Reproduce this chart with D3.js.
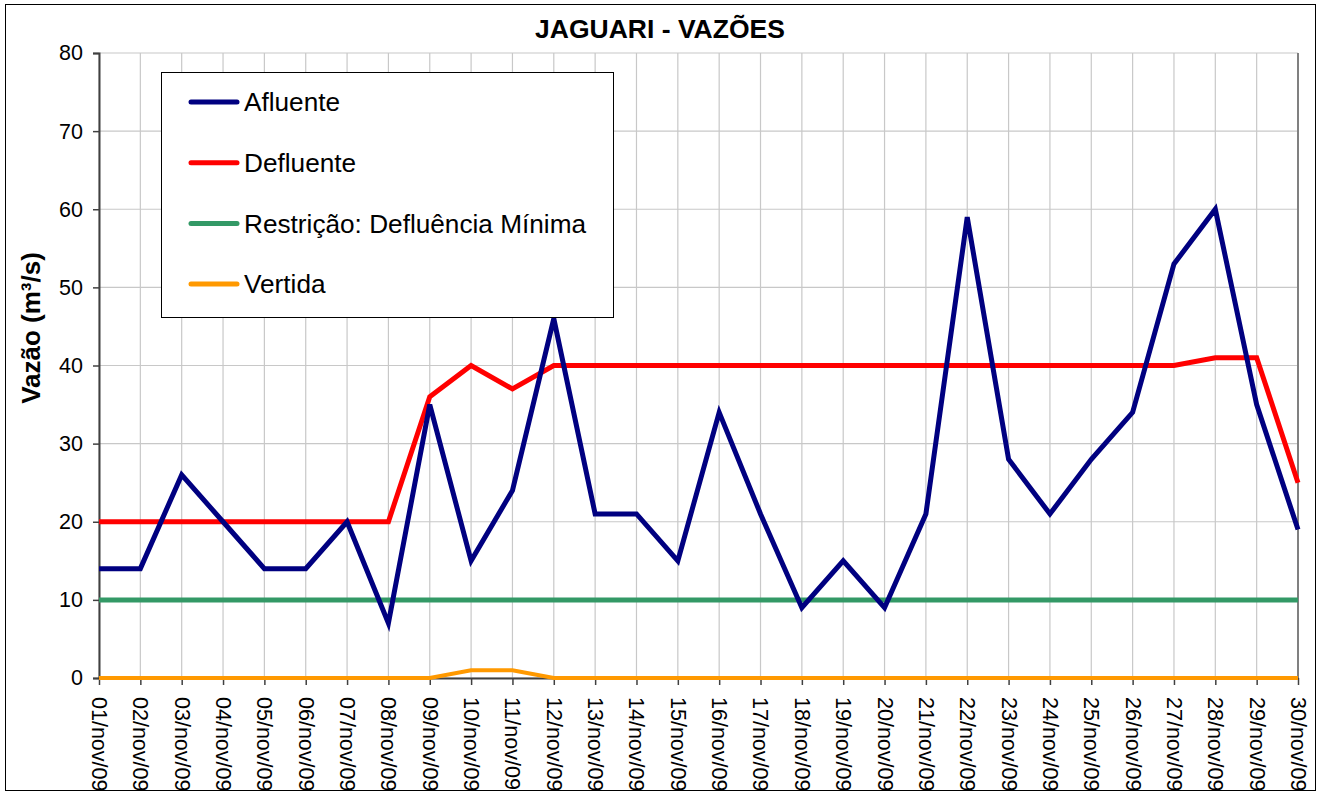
<!DOCTYPE html>
<html>
<head>
<meta charset="utf-8">
<script src="https://cdn.jsdelivr.net/npm/d3@7"></script>
<style>
  body { margin: 0; background: #fff; }
  text { font-family: "Liberation Sans", Arial, sans-serif; }
</style>
</head>
<body>
<div class="chart"></div>
<script>
// days of november 2009
const dias = ["01/nov/09","02/nov/09","03/nov/09","04/nov/09","05/nov/09","06/nov/09","07/nov/09","08/nov/09","09/nov/09","10/nov/09",
              "11/nov/09","12/nov/09","13/nov/09","14/nov/09","15/nov/09","16/nov/09","17/nov/09","18/nov/09","19/nov/09","20/nov/09",
              "21/nov/09","22/nov/09","23/nov/09","24/nov/09","25/nov/09","26/nov/09","27/nov/09","28/nov/09","29/nov/09","30/nov/09"];
const afluente  = [14,14,26,20,14,14,20,7,35,15,24,46,21,21,15,34,21,9,15,9,21,59,28,21,28,34,53,60,35,19];
const defluente = [20,20,20,20,20,20,20,20,36,40,37,40,40,40,40,40,40,40,40,40,40,40,40,40,40,40,40,41,41,25];
const restricao = [10,10,10,10,10,10,10,10,10,10,10,10,10,10,10,10,10,10,10,10,10,10,10,10,10,10,10,10,10,10];
const vertida   = [0,0,0,0,0,0,0,0,0,1,1,0,0,0,0,0,0,0,0,0,0,0,0,0,0,0,0,0,0,0];
const yTicks = [0,10,20,30,40,50,60,70,80];

const series = [
    {name: "Afluente", values: afluente, color: "#000080", width: 5},
    {name: "Defluente", values: defluente, color: "#ff0000", width: 5},
    {name: "Restrição: Defluência Mínima", values: restricao, color: "#339966", width: 5},
    {name: "Vertida", values: vertida, color: "#ff9900", width: 4}
];

const w = 1320;
const h = 792;
const plotL = 99, plotR = 1298, plotT = 53, plotB = 678;

const svg = d3.select('.chart')
    .append('svg')
    .attr('width', w)
    .attr('height', h);

const x = d3.scalePoint().domain(dias).range([plotL, plotR]);
const y = d3.scaleLinear().domain([0, 80]).range([plotB, plotT]);

// gridlines
svg.append("g")
    .selectAll("line")
    .data(yTicks)
    .enter()
    .append("line")
    .attr("x1", plotL).attr("x2", plotR)
    .attr("y1", d => y(d)).attr("y2", d => y(d))
    .attr("stroke", "#c8c8c8")
    .attr("stroke-width", 1.2);

svg.append("g")
    .selectAll("line")
    .data(dias)
    .enter()
    .append("line")
    .attr("x1", d => x(d)).attr("x2", d => x(d))
    .attr("y1", plotT).attr("y2", plotB)
    .attr("stroke", d => d === dias[dias.length - 1] ? "#808080" : "#c8c8c8")
    .attr("stroke-width", d => d === dias[dias.length - 1] ? 2 : 1.2);

// y axis
const yAxis = svg.append("g")
    .attr("transform", `translate(${plotL},0)`)
    .call(d3.axisLeft(y).tickValues(yTicks).tickSize(6).tickPadding(10));
yAxis.select(".domain").attr("stroke", "#404040").attr("stroke-width", 2);
yAxis.selectAll(".tick line").attr("stroke", "#404040").attr("stroke-width", 1.5);
yAxis.selectAll(".tick text")
    .attr("font-size", 21.5)
    .attr("fill", "#000")
    .attr("font-family", "Liberation Sans, Arial, sans-serif");

// x axis
const xAxis = svg.append("g")
    .attr("transform", `translate(0,${plotB})`)
    .call(d3.axisBottom(x).tickSize(7).tickSizeOuter(0));
xAxis.select(".domain").attr("stroke", "#404040").attr("stroke-width", 2);
xAxis.selectAll(".tick line").attr("stroke", "#404040").attr("stroke-width", 1.5);
xAxis.selectAll(".tick text")
    .attr("font-size", 21.5)
    .attr("fill", "#000")
    .attr("font-family", "Liberation Sans, Arial, sans-serif")
    .attr("text-anchor", "start")
    .attr("dy", "0.35em")
    .attr("transform", "translate(0,19) rotate(90)")
    .attr("x", 0)
    .attr("y", 0);

// lines (drawn last series first so Afluente stays on top)
const line = d3.line()
    .x((d, i) => x(dias[i]))
    .y(d => y(d));

svg.append("g")
    .selectAll("path")
    .data(series.slice().reverse())
    .enter()
    .append("path")
    .attr("d", d => line(d.values))
    .attr("fill", "none")
    .attr("stroke", d => d.color)
    .attr("stroke-width", d => d.width)
    .attr("stroke-linejoin", "miter");

// title
svg.append("text")
    .text("JAGUARI - VAZÕES")
    .attr("x", 660)
    .attr("y", 38)
    .attr("text-anchor", "middle")
    .attr("font-size", 26.5)
    .attr("font-weight", "bold");

// y title
svg.append("text")
    .text("Vazão (m³/s)")
    .attr("transform", "translate(40,328) rotate(-90)")
    .attr("text-anchor", "middle")
    .attr("font-size", 26)
    .attr("font-weight", "bold");

// legend
const legend = svg.append("g");
legend.append("rect")
    .attr("x", 161.5).attr("y", 72.5)
    .attr("width", 452).attr("height", 245)
    .attr("fill", "white")
    .attr("stroke", "#000")
    .attr("stroke-width", 1);

const items = legend.selectAll("g.item")
    .data(series)
    .enter()
    .append("g")
    .attr("class", "item")
    .attr("transform", (d, i) => `translate(0,${102 + i * 60.7})`);

items.append("line")
    .attr("x1", 191).attr("x2", 237)
    .attr("y1", 0).attr("y2", 0)
    .attr("stroke", d => d.color)
    .attr("stroke-width", 5)
    .attr("stroke-linecap", "round");

items.append("text")
    .text(d => d.name)
    .attr("x", 244)
    .attr("y", 0)
    .attr("dy", "0.35em")
    .attr("font-size", 26.2);

// outer chart border, on top so the long tick labels run under it
svg.append("rect")
    .attr("x", 5.5).attr("y", 4.5)
    .attr("width", 1310).attr("height", 786)
    .attr("fill", "none")
    .attr("stroke", "#000")
    .attr("stroke-width", 1);
</script>
</body>
</html>
